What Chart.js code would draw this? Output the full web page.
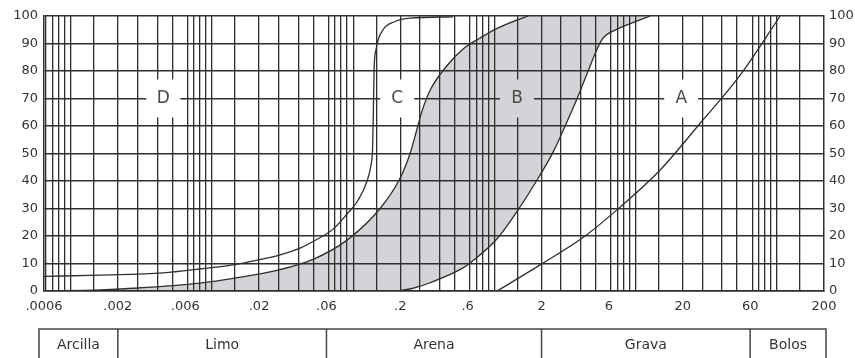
<!DOCTYPE html>
<html>
<head>
<meta charset="utf-8">
<script src="https://cdn.jsdelivr.net/npm/chart.js@4/dist/chart.umd.min.js"></script>
<style>
  html, body { margin: 0; padding: 0; background: #fff; }
  #chart { display: block; }
</style>
</head>
<body>
<canvas id="chart" width="855" height="358"></canvas>
<script>
// Particle size (mm) and percent passing for each curve
const sizeC = [0.0006, 0.0015, 0.0042, 0.0076, 0.0135, 0.0194, 0.0282, 0.039, 0.0482, 0.0668, 0.0839, 0.1005, 0.1163, 0.1241, 0.1273, 0.1289, 0.1304, 0.1348, 0.151, 0.1837, 0.2345, 0.473];
const passC = [5.3, 5.8, 6.6, 8, 9.6, 11.2, 13.1, 15.6, 18, 22.5, 28, 33, 40, 46, 52, 65, 80, 88, 95, 98, 99.2, 99.7];

const sizeB1 = [0.0006, 0.0015, 0.00256, 0.0076, 0.0135, 0.02725, 0.0482, 0.0839, 0.1438, 0.1992, 0.2345, 0.2629, 0.2852, 0.325, 0.4289, 0.5567, 0.7344, 0.9693, 1.607];
const passB1 = [0, 0.4, 1, 2.9, 4.7, 7.6, 11.5, 18.5, 30, 41, 50, 59, 65.5, 73, 82, 88, 92, 95.5, 100];

const sizeB2 = [0.1897, 0.2464, 0.325, 0.5567, 0.624, 0.9693, 1.365, 1.891, 2.415, 2.938, 3.572, 4.274, 4.95, 5.459, 6.86, 9.51, 11.75];
const passB2 = [0, 1, 3, 8.4, 10.2, 19, 29.5, 41, 50.5, 60, 70, 80, 88, 92, 95.2, 98.2, 100];

const sizeA = [0.9693, 1.954, 4.07, 7.2, 13.83, 26.55, 51.0, 97.9];
const passA = [0, 9.5, 20, 30.5, 44, 61, 78.5, 100];

// Zone letters
const zoneNames = ['D', 'C', 'B', 'A'];
const zoneSize = [0.0042, 0.19, 1.34, 19.5];
const zonePass = [70, 70, 70, 70];

// x axis
const xMin = 0.0006;
const xMax = 200;
const xTickValues = [0.0006, 0.002, 0.006, 0.02, 0.06, 0.2, 0.6, 2, 6, 20, 60, 200];
const xTickLabels = ['.0006', '.002', '.006', '.02', '.06', '.2', '.6', '2', '6', '20', '60', '200'];
const gridMultipliers = [1.35, 2, 2.75, 3.8, 4.85, 6.2, 6.9, 7.6, 8.4, 9.3];

// soil classes below the chart
const classNames = ['Arcilla', 'Limo', 'Arena', 'Grava', 'Bolos'];
const classLimits = [0.002, 0.06, 2, 60];

const LINE = '#2e2e2e';
const BAND = '#d3d4d7';
const TEXT = '#333';
const FONT = 'DejaVu Sans';

function toPoints(xs, ys) {
    return xs.map((x, i) => ({ x: x, y: ys[i] }));
}

function sameValue(a, b) {
    return Math.abs(Math.log10(a) - Math.log10(b)) < 1e-6;
}

// grid line values, one set per decade
const gridValues = [];
for (let k = -4; k <= 2; k++) {
    gridMultipliers.forEach(m => {
        const v = m * Math.pow(10, k);
        if (v > xMin * 1.001 && v < xMax * 0.999) gridValues.push(v);
    });
}
const allTicks = gridValues.slice();
xTickValues.forEach(v => {
    if (!allTicks.some(g => sameValue(g, v))) allTicks.push(v);
});
allTicks.sort((a, b) => a - b);

// band outline: left curve up, right curve back down
const bandPoints = toPoints(sizeB1, passB1).concat(toPoints(sizeB2, passB2).reverse());

const curveStyle = {
    borderColor: LINE,
    borderWidth: 1.3,
    pointRadius: 0,
    fill: false,
    cubicInterpolationMode: 'monotone',
    order: 0
};

// zone letters and the soil class table
const overlayPlugin = {
    id: 'overlay',
    afterDraw(chart) {
        const ctx = chart.ctx;
        const xs = chart.scales.x;
        const ys = chart.scales.y;
        const area = chart.chartArea;

        ctx.save();
        ctx.font = '17px ' + FONT;
        ctx.textAlign = 'center';
        ctx.textBaseline = 'middle';
        zoneNames.forEach((name, i) => {
            const px = xs.getPixelForValue(zoneSize[i]);
            const py = ys.getPixelForValue(zonePass[i]);
            ctx.fillStyle = name === 'B' ? BAND : '#fff';
            ctx.fillRect(px - 17, py - 19, 34, 38);
            ctx.fillStyle = '#4a4a4a';
            ctx.fillText(name, px, py);
        });

        // table
        const top = area.bottom + 38;
        const left = area.left - 5;
        const right = area.right + 2;
        const bottom = chart.height + 4;
        ctx.strokeStyle = '#444';
        ctx.lineWidth = 1.5;
        ctx.strokeRect(left, top, right - left, bottom - top);
        const edges = [left].concat(classLimits.map(v => xs.getPixelForValue(v)), [right]);
        for (let i = 1; i < edges.length - 1; i++) {
            ctx.beginPath();
            ctx.moveTo(edges[i], top);
            ctx.lineTo(edges[i], bottom);
            ctx.stroke();
        }
        ctx.font = '14px ' + FONT;
        ctx.fillStyle = TEXT;
        classNames.forEach((name, i) => {
            ctx.fillText(name, (edges[i] + edges[i + 1]) / 2, top + 16);
        });
        ctx.restore();
    }
};

new Chart(document.getElementById('chart'), {
    type: 'line',
    data: {
        datasets: [
            Object.assign({}, curveStyle, { label: 'C', data: toPoints(sizeC, passC) }),
            Object.assign({}, curveStyle, { label: 'B1', data: toPoints(sizeB1, passB1) }),
            Object.assign({}, curveStyle, { label: 'B2', data: toPoints(sizeB2, passB2) }),
            Object.assign({}, curveStyle, { label: 'A', data: toPoints(sizeA, passA) }),
            {
                label: 'band',
                data: bandPoints,
                cubicInterpolationMode: 'monotone',
                borderWidth: 0,
                borderColor: 'rgba(0,0,0,0)',
                backgroundColor: BAND,
                pointRadius: 0,
                fill: 'shape',
                order: 5
            }
        ]
    },
    options: {
        responsive: false,
        animation: false,
        layout: { padding: { top: 16, left: 0, right: 0, bottom: 0 } },
        plugins: {
            legend: { display: false },
            tooltip: { enabled: false }
        },
        scales: {
            x: {
                type: 'logarithmic',
                min: xMin,
                max: xMax,
                afterBuildTicks: function(scale) {
                    scale.ticks = allTicks.map(v => ({ value: v }));
                },
                afterFit: function(scale) {
                    scale.height = 67;
                },
                grid: {
                    z: 1,
                    drawTicks: false,
                    lineWidth: 1.3,
                    color: function(ctx) {
                        if (!ctx.tick) return 'rgba(0,0,0,0)';
                        return gridValues.some(g => sameValue(g, ctx.tick.value)) ? LINE : 'rgba(0,0,0,0)';
                    }
                },
                border: { display: true, color: LINE, width: 1.5, z: 1 },
                ticks: {
                    autoSkip: false,
                    maxRotation: 0,
                    minRotation: 0,
                    padding: 8,
                    color: TEXT,
                    font: { family: FONT, size: 13 },
                    callback: function(value) {
                        const i = xTickValues.findIndex(v => sameValue(v, value));
                        return i >= 0 ? xTickLabels[i] : '';
                    }
                }
            },
            y: {
                type: 'linear',
                position: 'left',
                min: 0,
                max: 100,
                afterFit: function(scale) {
                    scale.width = 44;
                },
                grid: { z: 1, drawTicks: false, color: LINE, lineWidth: 1.5 },
                border: { display: true, color: LINE, width: 1.5, z: 1 },
                ticks: {
                    stepSize: 10,
                    padding: 6,
                    color: TEXT,
                    font: { family: FONT, size: 13 }
                }
            },
            y2: {
                type: 'linear',
                position: 'right',
                min: 0,
                max: 100,
                afterFit: function(scale) {
                    scale.width = 31;
                },
                grid: { display: false, drawTicks: false },
                border: { display: true, color: LINE, width: 1.5, z: 1 },
                ticks: {
                    stepSize: 10,
                    padding: 5,
                    color: TEXT,
                    font: { family: FONT, size: 13 }
                }
            }
        }
    },
    plugins: [overlayPlugin]
});
</script>
</body>
</html>
